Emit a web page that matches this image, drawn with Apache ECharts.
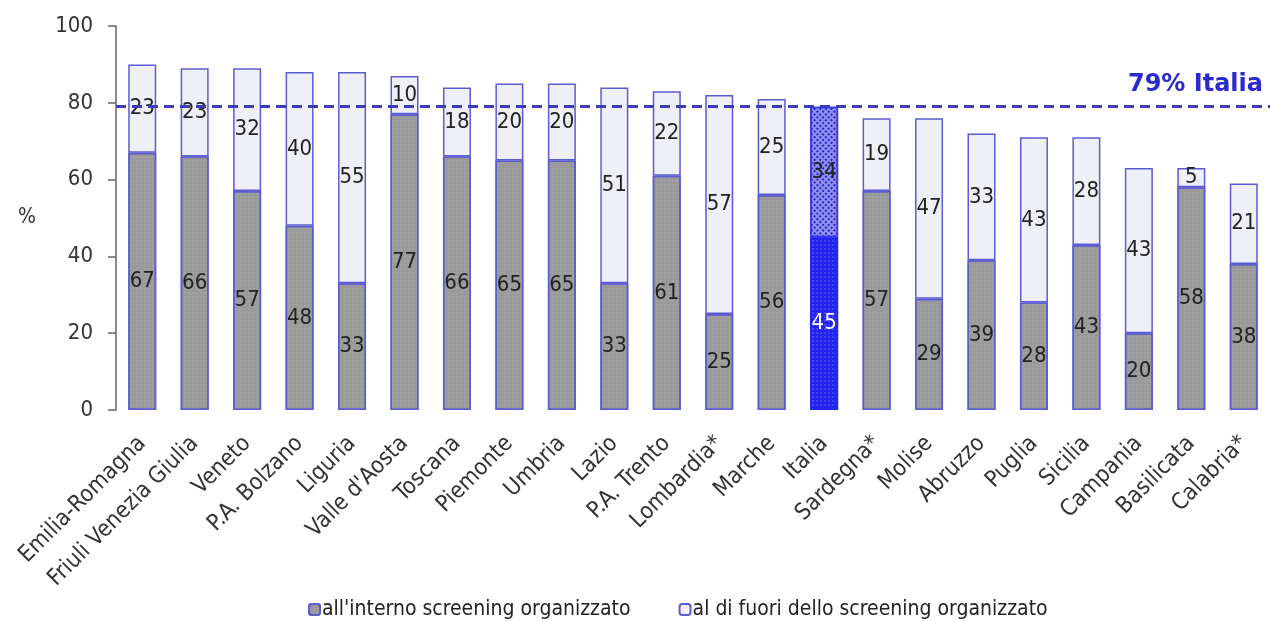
<!DOCTYPE html>
<html>
<head>
<meta charset="utf-8">
<script src="https://cdn.jsdelivr.net/npm/echarts@6/dist/echarts.min.js"></script>
<style>
  html, body { margin: 0; padding: 0; background: #ffffff; }
  #chart { width: 1270px; height: 621px; }
</style>
</head>
<body>
<div id="chart"></div>
<script>
// Regioni, ordinate per copertura totale
const categories = [
  'Emilia-Romagna', 'Friuli Venezia Giulia', 'Veneto', 'P.A. Bolzano', 'Liguria',
  "Valle d'Aosta", 'Toscana', 'Piemonte', 'Umbria', 'Lazio', 'P.A. Trento',
  'Lombardia*', 'Marche', 'Italia', 'Sardegna*', 'Molise', 'Abruzzo', 'Puglia',
  'Sicilia', 'Campania', 'Basilicata', 'Calabria*'
];
// Quota all'interno dello screening organizzato (%)
const interno = [67, 66, 57, 48, 33, 77, 66, 65, 65, 33, 61, 25, 56, 45, 57, 29, 39, 28, 43, 20, 58, 38];
// Quota al di fuori dello screening organizzato (%)
const fuori = [23, 23, 32, 40, 55, 10, 18, 20, 20, 51, 22, 57, 25, 34, 19, 47, 33, 43, 28, 43, 5, 21];
// Valore nazionale complessivo (%)
const italiaTotale = 79;
const yTicks = [0, 20, 40, 60, 80, 100];

const FONT = '"DejaVu Sans Condensed", "DejaVu Sans", sans-serif';
const BORDER = '#5c5cd2';

const dotsGrey = {
  symbol: 'rect', symbolSize: 0.5, color: 'rgba(215,215,215,0.55)',
  dashArrayX: [2, 2], dashArrayY: [2, 2]
};
const dotsBlue = {
  symbol: 'rect', symbolSize: 0.5, color: 'rgba(255,255,255,0.6)',
  dashArrayX: [2, 2], dashArrayY: [2, 2]
};
const hatchBlue = {
  symbol: 'rect', symbolSize: 1, color: 'rgba(30,30,215,0.95)',
  dashArrayX: [2, 2], dashArrayY: [2, 2], rotation: Math.PI / 4
};

const italiaIdx = categories.indexOf('Italia');

const internoData = interno.map((v, i) => i === italiaIdx ? {
  value: v,
  itemStyle: { color: '#2323ee', borderColor: '#2323ee', decal: dotsBlue },
  label: { color: '#ffffff' }
} : v);

const fuoriData = fuori.map((v, i) => i === italiaIdx ? {
  value: v,
  itemStyle: { color: '#9090ee', borderColor: '#3a3ae0', decal: hatchBlue }
} : v);

const chart = echarts.init(document.getElementById('chart'), null, { renderer: 'canvas' });

chart.setOption({
  backgroundColor: '#ffffff',
  animation: false,
  textStyle: { fontFamily: FONT },
  grid: { left: 116, right: -8, top: 26, bottom: 211, containLabel: false },
  legend: {
    left: 303, top: 594,
    itemWidth: 11, itemHeight: 11, itemGap: 48,
    textStyle: { fontFamily: FONT, fontSize: 21, color: '#222222', padding: [0, 0, 0, -3] },
    data: ["all'interno screening organizzato", 'al di fuori dello screening organizzato']
  },
  xAxis: {
    type: 'category',
    data: categories,
    axisLine: { show: false },
    axisTick: { show: false },
    axisLabel: {
      rotate: 45, margin: 30, interval: 0,
      fontFamily: FONT, fontSize: 23, color: '#333333'
    }
  },
  yAxis: {
    type: 'value',
    min: yTicks[0], max: yTicks[yTicks.length - 1], interval: 20,
    name: '%', nameLocation: 'middle', nameRotate: 0, nameGap: 80,
    nameTextStyle: { fontFamily: FONT, fontSize: 21, color: '#333333' },
    axisLine: { show: true, lineStyle: { color: '#666666', width: 1.5 } },
    axisTick: { show: true, length: 8, lineStyle: { color: '#666666', width: 1.5 } },
    axisLabel: { margin: 23, fontFamily: FONT, fontSize: 22, color: '#333333' },
    splitLine: { show: false }
  },
  series: [
    {
      name: "all'interno screening organizzato",
      type: 'bar', stack: 'tot', barWidth: 28,
      data: internoData,
      itemStyle: { color: '#9a9a9a', borderColor: BORDER, borderWidth: 1.5, decal: dotsGrey },
      label: {
        show: true, position: 'inside',
        fontFamily: FONT, fontSize: 22, color: '#222222'
      },
      z: 2
    },
    {
      name: 'al di fuori dello screening organizzato',
      type: 'bar', stack: 'tot', barWidth: 28,
      data: fuoriData,
      itemStyle: { color: '#efeff7', borderColor: BORDER, borderWidth: 1.5 },
      label: {
        show: true, position: 'inside',
        fontFamily: FONT, fontSize: 22, color: '#222222'
      },
      markLine: {
        silent: true, symbol: 'none',
        lineStyle: { color: '#3c3cb8', width: 3, type: [10, 6] },
        label: {
          show: true, position: 'insideEndTop', distance: [7, 10],
          formatter: p => p.value + '% Italia',
          fontFamily: '"DejaVu Sans", sans-serif', fontSize: 24, fontWeight: 'bold', color: '#2a2ad0'
        },
        data: [{ yAxis: italiaTotale }]
      },
      z: 2
    }
  ]
});
</script>
</body>
</html>
